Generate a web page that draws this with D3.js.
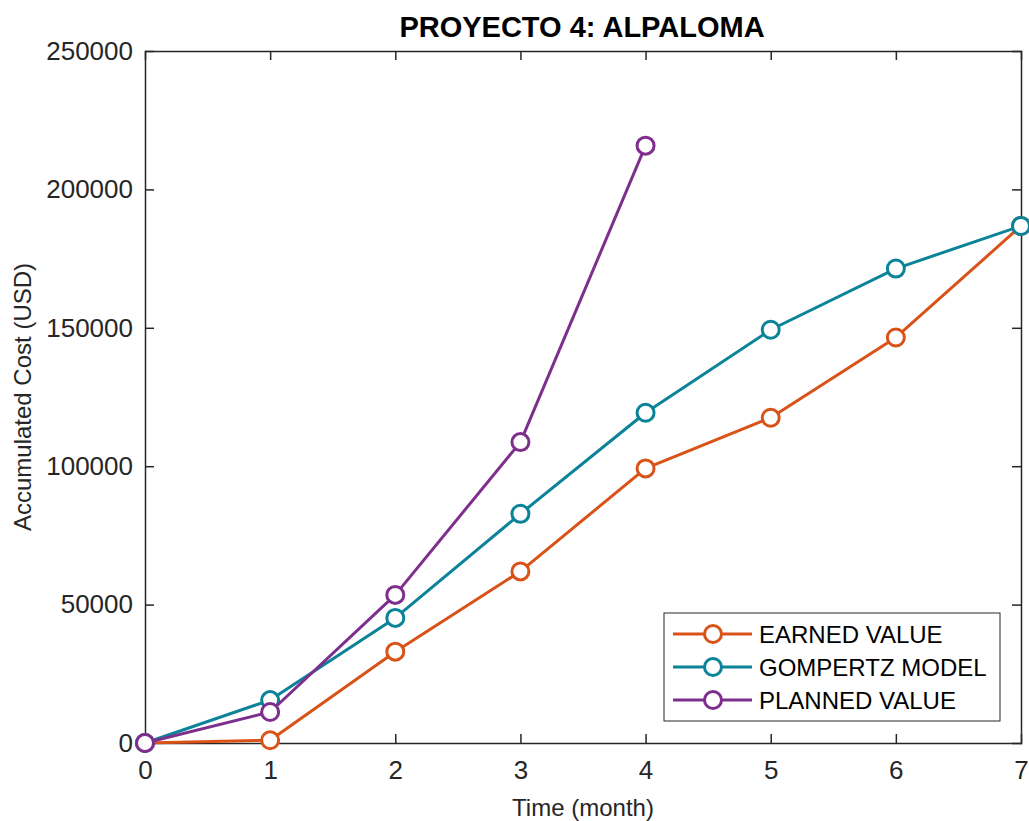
<!DOCTYPE html>
<html>
<head>
<meta charset="utf-8">
<script src="https://cdn.jsdelivr.net/npm/d3@7/dist/d3.min.js"></script>
<style>
  body { margin: 0; background: #fff; }
  text { font-family: "Liberation Sans", Arial, Helvetica, sans-serif; }
</style>
</head>
<body>
<svg id="chart" width="1029" height="821"></svg>
<script>
// Monthly accumulated cost for Proyecto 4 (Alpaloma)
const months = [0, 1, 2, 3, 4, 5, 6, 7];
const earnedValue = [0, 1000, 33000, 62000, 99200, 117500, 146500, 186800];
const gompertzModel = [0, 15500, 45200, 82800, 119300, 149300, 171400, 186800];
const plannedMonths = [0, 1, 2, 3, 4];
const plannedValue = [0, 11200, 53500, 108700, 215800];
const xTicks = [0, 1, 2, 3, 4, 5, 6, 7];
const yTicks = [0, 50000, 100000, 150000, 200000, 250000];

const series = [
  { name: "EARNED VALUE", xs: months, ys: earnedValue, color: "#D95319" },
  { name: "GOMPERTZ MODEL", xs: months, ys: gompertzModel, color: "#0B8398" },
  { name: "PLANNED VALUE", xs: plannedMonths, ys: plannedValue, color: "#7E2F8E" }
];

const svg = d3.select("#chart");
const plotLeft = 145, plotRight = 1021, plotTop = 51, plotBottom = 743;

const x = d3.scaleLinear().domain([0, 7]).range([plotLeft, plotRight]);
const y = d3.scaleLinear().domain([0, 250000]).range([plotBottom, plotTop]);

const axisColor = "#262626";
const tickLen = 9;

// Axes with inward ticks on all four sides (boxed frame)
const gx = svg.append("g").attr("transform", `translate(0,${plotBottom})`)
  .call(d3.axisBottom(x).tickValues(xTicks).tickSize(-tickLen).tickPadding(18).tickFormat(d3.format("d")));
const gxTop = svg.append("g").attr("transform", `translate(0,${plotTop})`)
  .call(d3.axisTop(x).tickValues(xTicks).tickSize(-tickLen).tickFormat(""));
const gy = svg.append("g").attr("transform", `translate(${plotLeft},0)`)
  .call(d3.axisLeft(y).tickValues(yTicks).tickSize(-tickLen).tickPadding(12).tickFormat(d3.format("d")));
const gyRight = svg.append("g").attr("transform", `translate(${plotRight},0)`)
  .call(d3.axisRight(y).tickValues(yTicks).tickSize(-tickLen).tickFormat(""));

[gx, gxTop, gy, gyRight].forEach(g => {
  g.select(".domain").attr("stroke", axisColor).attr("stroke-width", 1.5);
  g.selectAll(".tick line").attr("stroke", axisColor).attr("stroke-width", 1.5);
  g.selectAll(".tick text").attr("fill", axisColor).style("font-size", "26px")
    .style("font-family", "'Liberation Sans', Arial, sans-serif");
});
// Drop edge ticks that coincide with the frame
gx.selectAll(".tick line").filter(d => d === 0 || d === 7).remove();
gxTop.selectAll(".tick line").filter(d => d === 0 || d === 7).remove();
gy.selectAll(".tick line").filter(d => d === 0 || d === 250000).remove();
gyRight.selectAll(".tick line").filter(d => d === 0 || d === 250000).remove();

// Series lines and circle markers
const line = d3.line().x(d => x(d[0])).y(d => y(d[1]));
series.forEach(s => {
  const pts = s.xs.map((v, i) => [v, s.ys[i]]);
  const g = svg.append("g");
  g.append("path").datum(pts).attr("d", line)
    .attr("fill", "none").attr("stroke", s.color).attr("stroke-width", 3)
    .attr("stroke-linejoin", "round");
  g.selectAll("circle").data(pts).enter().append("circle")
    .attr("cx", d => x(d[0])).attr("cy", d => y(d[1])).attr("r", 8.5)
    .attr("fill", "#fff").attr("stroke", s.color).attr("stroke-width", 3);
});

// Legend
const lg = svg.append("g");
lg.append("rect").attr("x", 664).attr("y", 613).attr("width", 336).attr("height", 108)
  .attr("fill", "#fff").attr("stroke", "#262626").attr("stroke-width", 1);
series.forEach((s, i) => {
  const cy = 634 + i * 33;
  lg.append("line").attr("x1", 673).attr("x2", 752).attr("y1", cy).attr("y2", cy)
    .attr("stroke", s.color).attr("stroke-width", 3);
  lg.append("circle").attr("cx", 713).attr("cy", cy).attr("r", 8.5)
    .attr("fill", "#fff").attr("stroke", s.color).attr("stroke-width", 3);
  lg.append("text").attr("x", 759).attr("y", cy + 9).text(s.name)
    .style("font-size", "24px").attr("fill", "#000");
});

// Title and axis labels
svg.append("text").attr("x", 582).attr("y", 37).attr("text-anchor", "middle")
  .style("font-size", "29px").style("font-weight", "bold").attr("fill", "#000")
  .text("PROYECTO 4: ALPALOMA");
svg.append("text").attr("x", 583).attr("y", 816).attr("text-anchor", "middle")
  .style("font-size", "24px").attr("fill", axisColor).text("Time (month)");
svg.append("text").attr("transform", "translate(31,397) rotate(-90)").attr("text-anchor", "middle")
  .style("font-size", "24px").attr("fill", axisColor).text("Accumulated Cost (USD)");
</script>
</body>
</html>
